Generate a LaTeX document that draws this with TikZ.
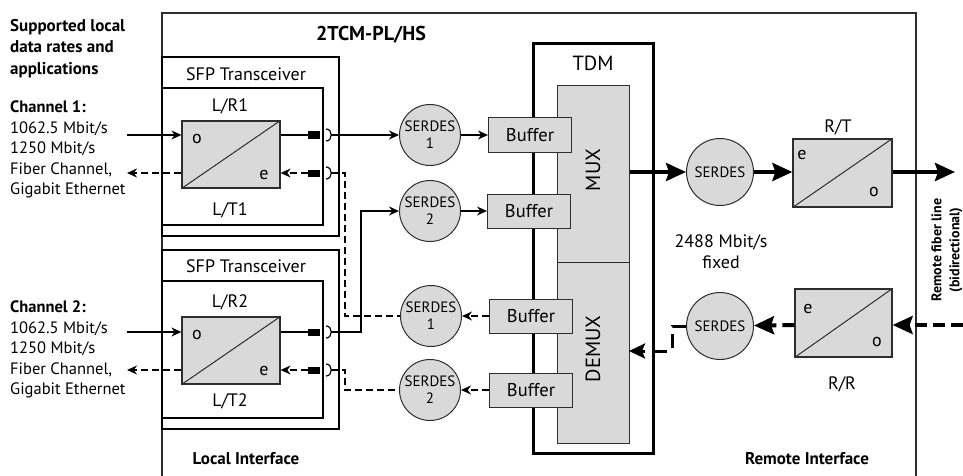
\documentclass[tikz,border=0pt]{standalone}
\usepackage{fontspec}
\setmainfont{PT Sans}
\usetikzlibrary{arrows.meta}
\definecolor{lgray}{RGB}{217,217,217}
\definecolor{dline}{RGB}{45,45,45}
\newcommand\sfpplug[1]{%
  \fill (308,#1-3.5) rectangle (320,#1+3.5);
  \draw[line width=1.2pt] (326,#1-6) .. controls (333,#1-6) and (333,#1+6) .. (326,#1+6);}
\begin{document}
\begin{tikzpicture}[x=1pt,y=-1pt,
  every node/.style={inner sep=0pt},
  f16/.style={font=\fontsize{18}{21}\selectfont},
  conv/.style={draw=dline, fill=lgray, line width=1.2pt, minimum width=98pt, minimum height=67pt},
  serdes/.style={circle, draw=dline, fill=lgray, line width=1pt, minimum size=61pt, align=center, font=\fontsize{15}{17}\selectfont},
  bigserdes/.style={serdes, minimum size=67pt},
  buf/.style={draw=dline, fill=lgray, line width=1pt, minimum width=83pt, minimum height=34pt, font=\fontsize{18.5}{21}\selectfont},
  blk/.style={draw=dline, fill=lgray, line width=1pt},
  tline/.style={line width=1.5pt},
  tarrow/.style={line width=1.5pt, -{Stealth[length=10pt,width=9pt]}},
  tdash/.style={line width=1.5pt, dash pattern=on 7pt off 4pt},
  tdarrow/.style={tdash, -{Stealth[length=10pt,width=9pt]}},
  barrow/.style={line width=4pt, -{Stealth[length=20pt,width=18pt,inset=3pt]}},
  bdarrow/.style={barrow, dash pattern=on 12pt off 6pt},
]
\useasboundingbox (0,0) rectangle (963,476);

% main enclosure
\draw[line width=1.5pt, dline] (162,476) -- (162,13) -- (916,13) -- (916,476);
\node[font=\bfseries\fontsize{20}{24}\selectfont] (title) at (371,35) {2TCM-PL/HS};

% left texts
\node[anchor=north west, align=left, font=\bfseries\fontsize{17}{21.5}\selectfont] (sup) at (10,19) {Supported local\\data rates and\\applications};
\node[anchor=north west, align=left, font=\fontsize{16.5}{20.5}\selectfont] (ch1) at (10,101) {\textbf{Channel 1:}\\1062.5 Mbit/s\\1250 Mbit/s\\Fiber Channel,\\Gigabit Ethernet};
\node[anchor=north west, align=left, font=\fontsize{16.5}{20.5}\selectfont] (ch2) at (10,301) {\textbf{Channel 2:}\\1062.5 Mbit/s\\1250 Mbit/s\\Fiber Channel,\\Gigabit Ethernet};

% SFP transceivers
\draw[line width=2.5pt] (162,57) rectangle (339,236);
\draw[line width=1.5pt] (162,88) rectangle (323,225);
\node[f16] (sfp1) at (246,74) {SFP Transceiver};
\node[f16] (lr1) at (230,106) {L/R1};
\node[f16] (lt1) at (230,210) {L/T1};
\node[conv] (conv1) at (231,154.5) {};
\draw[dline, line width=1pt] (conv1.south west) -- (conv1.north east);
\node[f16] (o1) at (197,139) {o};
\node[f16] (e1) at (264,175) {e};

\draw[line width=2.5pt] (162,250) rectangle (339,429);
\draw[line width=1.5pt] (162,281) rectangle (323,418);
\node[f16] (sfp2) at (246,266) {SFP Transceiver};
\node[f16] (lr2) at (230,302) {L/R2};
\node[f16] (lt2) at (230,401) {L/T2};
\node[conv] (conv2) at (231,350.5) {};
\draw[dline, line width=1pt] (conv2.south west) -- (conv2.north east);
\node[f16] (o2) at (197,335) {o};
\node[f16] (e2) at (264,371) {e};

% local fibre arrows
\coordinate (in1) at (127,135); \coordinate (out1) at (127,173);
\coordinate (in2) at (127,332); \coordinate (out2) at (127,370);
\draw[tarrow] (in1) -- (in1 -| conv1.west);
\draw[tdarrow] (out1 -| conv1.west) -- (out1);
\draw[tarrow] (in2) -- (in2 -| conv2.west);
\draw[tdarrow] (out2 -| conv2.west) -- (out2);

% plugs
\sfpplug{135}\sfpplug{173}\sfpplug{332}\sfpplug{370}
\coordinate (k1r) at (308,135); \coordinate (k1t) at (308,173);
\coordinate (k2r) at (308,332); \coordinate (k2t) at (308,370);
\coordinate (p1r) at (331,135); \coordinate (p1t) at (331,173);
\coordinate (p2r) at (331,332); \coordinate (p2t) at (331,370);
\draw[tline] (k1r -| conv1.east) -- (k1r);
\draw[tdarrow] (k1t) -- (k1t -| conv1.east);
\draw[tline] (k2r -| conv2.east) -- (k2r);
\draw[tdarrow] (k2t) -- (k2t -| conv2.east);

% local SERDES
\node[serdes] (s1) at (430,135) {SERDES\\1};
\node[serdes] (s2) at (430,211) {SERDES\\2};
\node[serdes] (s1b) at (431,316) {SERDES\\1};
\node[serdes] (s2b) at (430,390) {SERDES\\2};

\draw[tarrow] (p1r) -- (s1);
\draw[tarrow] (p2r) -- (361,332) -- (361,211) -- (s2);
\draw[tdash] (p1t) -- (345,173) -- (345,316) -- (s1b);
\draw[tdash] (p2t) -- (345,370) -- (345,390) -- (s2b);

% TDM
\draw[line width=3pt] (533,44) rectangle (653,453);
\node[font=\fontsize{20.5}{24}\selectfont] (tdm) at (593,63) {TDM};
\node[blk, minimum width=72pt, minimum height=176pt] (mux) at (593,174) {};
\node[blk, minimum width=72pt, minimum height=181pt] (dmx) at (593,352.5) {};
\node[rotate=90, font=\fontsize{20.5}{24}\selectfont] (muxl) at (593,170) {MUX};
\node[rotate=90, font=\fontsize{20.5}{24}\selectfont] (dmxl) at (593,349) {DEMUX};

% buffers
\node[buf] (b1) at (530,135) {Buffer};
\node[buf] (b2) at (529,211) {Buffer};
\node[buf] (b3) at (531,316) {Buffer};
\node[buf] (b4) at (531,390) {Buffer};
\draw[tarrow] (s1) -- (b1);
\draw[tarrow] (s2) -- (b2);
\draw[tdarrow] (b3) -- (s1b);
\draw[tdarrow] (b4) -- (s2b);

% remote side
\node[bigserdes] (st) at (720,172) {SERDES};
\node[bigserdes] (sr) at (720,326) {SERDES};
\node[conv, minimum width=99pt, minimum height=68pt] (rt) at (842.5,173) {};
\draw[dline, line width=1pt] (rt.south west) -- (rt.north east);
\node[f16] (rte) at (802,155) {e};
\node[f16] (rto) at (874,192) {o};
\node[f16] (rtl) at (838,127) {R/T};
\node[conv, minimum width=97pt, minimum height=68pt] (rr) at (843.5,323) {};
\draw[dline, line width=1pt] (rr.south west) -- (rr.north east);
\node[f16] (rre) at (808,309) {e};
\node[f16] (rro) at (877,342) {o};
\node[f16] (rrl) at (842,384) {R/R};

\node[align=center, font=\fontsize{18}{21}\selectfont] (rate) at (721,252) {2488 Mbit/s\\fixed};

\coordinate (fout) at (955,172);
\coordinate (fin) at (963,325);
\draw[barrow] (mux.east |- st) -- (st);
\draw[barrow] (st) -- (st -| rt.west);
\draw[barrow] (st -| rt.east) -- (fout);
\draw[bdarrow] (fin) -- (fin -| rr.east);
\draw[bdarrow] (fin -| rr.west) -- (sr);
\coordinate (dm) at (629,351);
\draw[line width=3pt, dash pattern=on 14pt off 8pt, -{Stealth[length=16pt,width=15pt,inset=3pt]}] (sr.west) -- (672,326) -- (672,351) -- (dm);

% rotated remote label
\node[rotate=90, align=center, font=\bfseries\fontsize{14}{18}\selectfont] (rfl) at (947,250) {Remote fiber line\\(bidirectional)};

% interface labels
\node[font=\bfseries\fontsize{17}{20}\selectfont] (li) at (246,459) {Local Interface};
\node[font=\bfseries\fontsize{17}{20}\selectfont] (ri) at (807,459) {Remote Interface};
\end{tikzpicture}
\end{document}
